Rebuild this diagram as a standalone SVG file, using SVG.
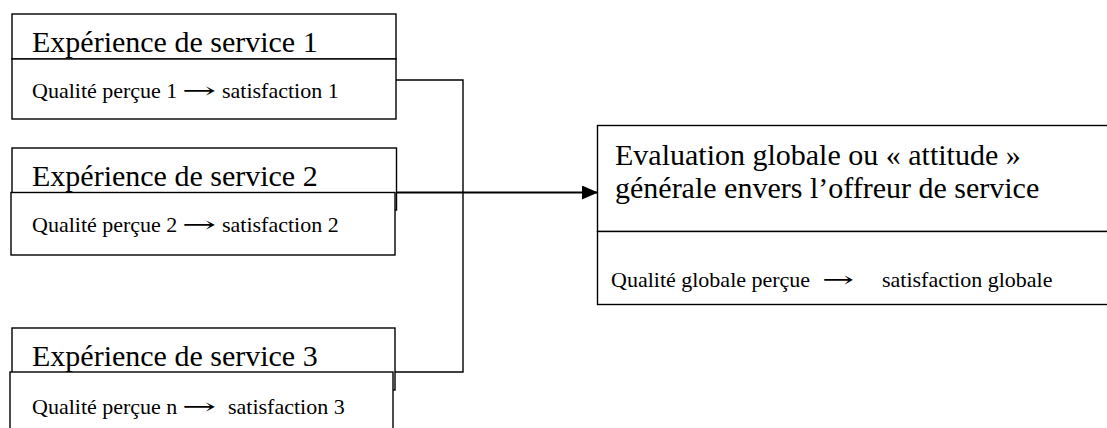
<svg xmlns="http://www.w3.org/2000/svg" width="1107" height="428" viewBox="0 0 1107 428">
<defs>
<style>
.box{fill:#fff;stroke:#000;stroke-width:1.4}
.title{font-family:"Liberation Serif","Times New Roman",serif;font-size:30px;fill:#000}
.small{font-family:"Liberation Serif","Times New Roman",serif;font-size:22px;fill:#000}
.ar{font-family:"DejaVu Serif","Liberation Serif",serif;font-size:22px;fill:#000}
.conn{fill:none;stroke:#000;stroke-width:1.4}
.arrow{fill:none;stroke:#000;stroke-width:2}
</style>
<marker id="ah" viewBox="0 0 16 14" refX="16" refY="7" markerWidth="16" markerHeight="14" markerUnits="userSpaceOnUse" orient="auto">
<path d="M0,0 L16,7 L0,14 z" fill="#000"/>
</marker>
</defs>
<rect width="1107" height="428" fill="#fff"/>
<g id="connectors">
<polyline class="conn" points="396,80 463,80 463,372 395,372"/>
<line class="arrow" x1="396" y1="192.5" x2="598" y2="192.5" marker-end="url(#ah)"/>
</g>
<g id="node1">
<rect class="box" x="12" y="14" width="384" height="45"/>
<rect class="box" x="12" y="59" width="384" height="60"/>
<text class="title" x="32" y="52">Expérience de service 1</text>
<text class="small" x="32" y="98">Qualité perçue 1</text>
<text class="ar" x="182" y="98" textLength="34" lengthAdjust="spacingAndGlyphs">→</text>
<text class="small" x="222" y="98">satisfaction 1</text>
</g>
<g id="node2">
<rect class="box" x="12" y="148" width="384.5" height="62"/>
<rect class="box" x="11" y="192.5" width="384" height="62.5"/>
<text class="title" x="32" y="186">Expérience de service 2</text>
<text class="small" x="32" y="232">Qualité perçue 2</text>
<text class="ar" x="182" y="232" textLength="34" lengthAdjust="spacingAndGlyphs">→</text>
<text class="small" x="222" y="232">satisfaction 2</text>
</g>
<g id="node3">
<rect class="box" x="12" y="328" width="383" height="62"/>
<rect class="box" x="10" y="372" width="383" height="62"/>
<text class="title" x="32" y="366">Expérience de service 3</text>
<text class="small" x="32" y="414">Qualité perçue n</text>
<text class="ar" x="182" y="414" textLength="34" lengthAdjust="spacingAndGlyphs">→</text>
<text class="small" x="228" y="414">satisfaction 3</text>
</g>
<g id="node4">
<rect class="box" x="597.5" y="125.5" width="520" height="106"/>
<rect class="box" x="597.5" y="231.5" width="520" height="73"/>
<text class="title" x="615" y="165">Evaluation globale ou « attitude »</text>
<text class="title" x="615" y="198">générale envers l’offreur de service</text>
<text class="small" x="611" y="287">Qualité globale perçue</text>
<text class="ar" x="822" y="287" textLength="32" lengthAdjust="spacingAndGlyphs">→</text>
<text class="small" x="882" y="287">satisfaction globale</text>
</g>
</svg>
